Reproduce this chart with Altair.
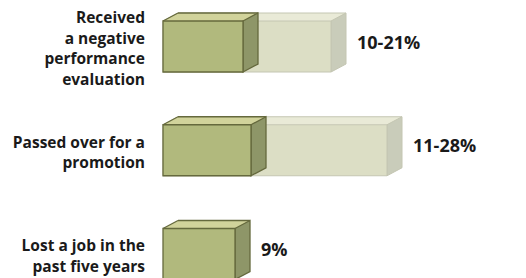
import altair as alt
import pandas as pd

# ---- data ----
categories = [
    "Received\na negative\nperformance\nevaluation",
    "Passed over for a\npromotion",
    "Lost a job in the\npast five years",
]
low_pct = [10, 11, 9]          # lower estimate (dark box)
high_pct = [21, 28, None]      # upper estimate (light box), none for the last row
value_labels = ["10-21%", "11-28%", "9%"]

# ---- tables built from the arrays ----
rows = pd.DataFrame({"idx": [0, 1, 2], "cat": categories, "low": low_pct,
                     "high": high_pct, "vlabel": value_labels})
rows["end"] = rows["high"].fillna(rows["low"])
rows["nlines"] = [c.count("\n") + 1 for c in categories]
dark = pd.DataFrame({"idx": rows["idx"], "start": 0, "val": low_pct})
light = rows[rows["high"].notna()][["idx"]].copy()
light["start"] = 0
light["val"] = [h for h in high_pct if h is not None]

# ---- geometry (pixels) ----
HALF = 25.5    # half height of the front face
DX = 15        # depth offset to the right
DY = 8         # depth offset upward
R = 40.0       # custom-symbol scale: sqrt(size)/2
SIZE = (2 * R) ** 2
LH = 20.5      # label line height
Y0, Y1 = 38.5, 246
PX_PER_ROW = (Y1 - Y0) / 2

def p(v):
    return f"{v / R:.4f}"

side_path = (f"M0,{p(-HALF)}L{p(DX)},{p(-HALF - DY)}L{p(DX)},{p(HALF - DY)}"
             f"L0,{p(HALF)}Z")
tri_path = (f"M0,{p(-HALF)}L{p(DX)},{p(-HALF - DY)}L{p(DX + 1)},{p(-HALF - DY)}"
            f"L{p(DX + 1)},{p(-HALF)}Z")
diag_path = f"M0,{p(-HALF)}L{p(DX)},{p(-HALF - DY)}"

xs = alt.Scale(domain=[0, 40], range=[155, 475], zero=False, nice=False)
ys = alt.Scale(domain=[0, 2], range=[Y0, Y1], zero=False, nice=False)


def box(df, front, top, side, line, sw):
    base = alt.Chart(df)
    X = alt.X("start:Q", scale=xs, axis=None)
    Y = alt.Y("idx:Q", scale=ys, axis=None)
    top_rect = base.mark_rect(fill=top, xOffset=DX, x2Offset=DX,
                              yOffset=-HALF - DY, y2Offset=-HALF).encode(
        x=X, x2="val:Q", y=Y, y2="idx:Q")
    tri = base.mark_point(shape=tri_path, size=SIZE, filled=True, fill=top,
                          opacity=1, strokeWidth=0).encode(x=X, y=Y)
    diag = base.mark_point(shape=diag_path, size=SIZE, filled=False, stroke=line,
                           strokeWidth=sw, opacity=1).encode(x=X, y=Y)
    back_edge = base.mark_rule(color=line, strokeWidth=sw, xOffset=DX, x2Offset=DX,
                               yOffset=-HALF - DY).encode(x=X, x2="val:Q", y=Y)
    side_face = base.mark_point(shape=side_path, size=SIZE, filled=True, fill=side,
                                stroke=line, strokeWidth=sw, opacity=1).encode(
        x=alt.X("val:Q", scale=xs, axis=None), y=Y)
    front_rect = base.mark_rect(fill=front, stroke=line, strokeWidth=sw,
                                yOffset=-HALF, y2Offset=HALF).encode(
        x=X, x2="val:Q", y=Y, y2="idx:Q")
    return [top_rect, tri, diag, back_edge, side_face, front_rect]


layers = []
layers += box(light, "#dcdec5", "#e9ead7", "#c9ccba", "#c4c6b2", 1)
layers += box(dark, "#b1b97d", "#d1d39b", "#8e9668", "#65693d", 1.3)

cat_text = alt.Chart(rows).transform_calculate(
    start0="0",
    ylab=f"datum.idx - ((datum.nlines - 1) * {LH} / 2 - 2.5) / {PX_PER_ROW}",
).mark_text(
    align="right", baseline="middle", lineBreak="\n", lineHeight=LH,
    font="Open Sans", fontSize=15.5, fontWeight="bold", color="#1a1a1a",
    dx=-18).encode(
    x=alt.X("start0:Q", scale=xs, axis=None),
    y=alt.Y("ylab:Q", scale=ys, axis=None),
    text="cat:N")

val_text = alt.Chart(rows).mark_text(
    align="left", baseline="middle", font="Open Sans", fontSize=18,
    fontWeight="bold", color="#1a1a1a", dx=DX + 11, dy=-3).encode(
    x=alt.X("end:Q", scale=xs, axis=None),
    y=alt.Y("idx:Q", scale=ys, axis=None),
    text="vlabel:N")

chart = alt.layer(*layers, cat_text, val_text).properties(
    width=510, height=270,
    autosize=alt.AutoSizeParams(type="none"),
    padding=0,
).configure_view(stroke=None)

chart.save("out.html", embed_options={"renderer": "svg", "actions": False})
